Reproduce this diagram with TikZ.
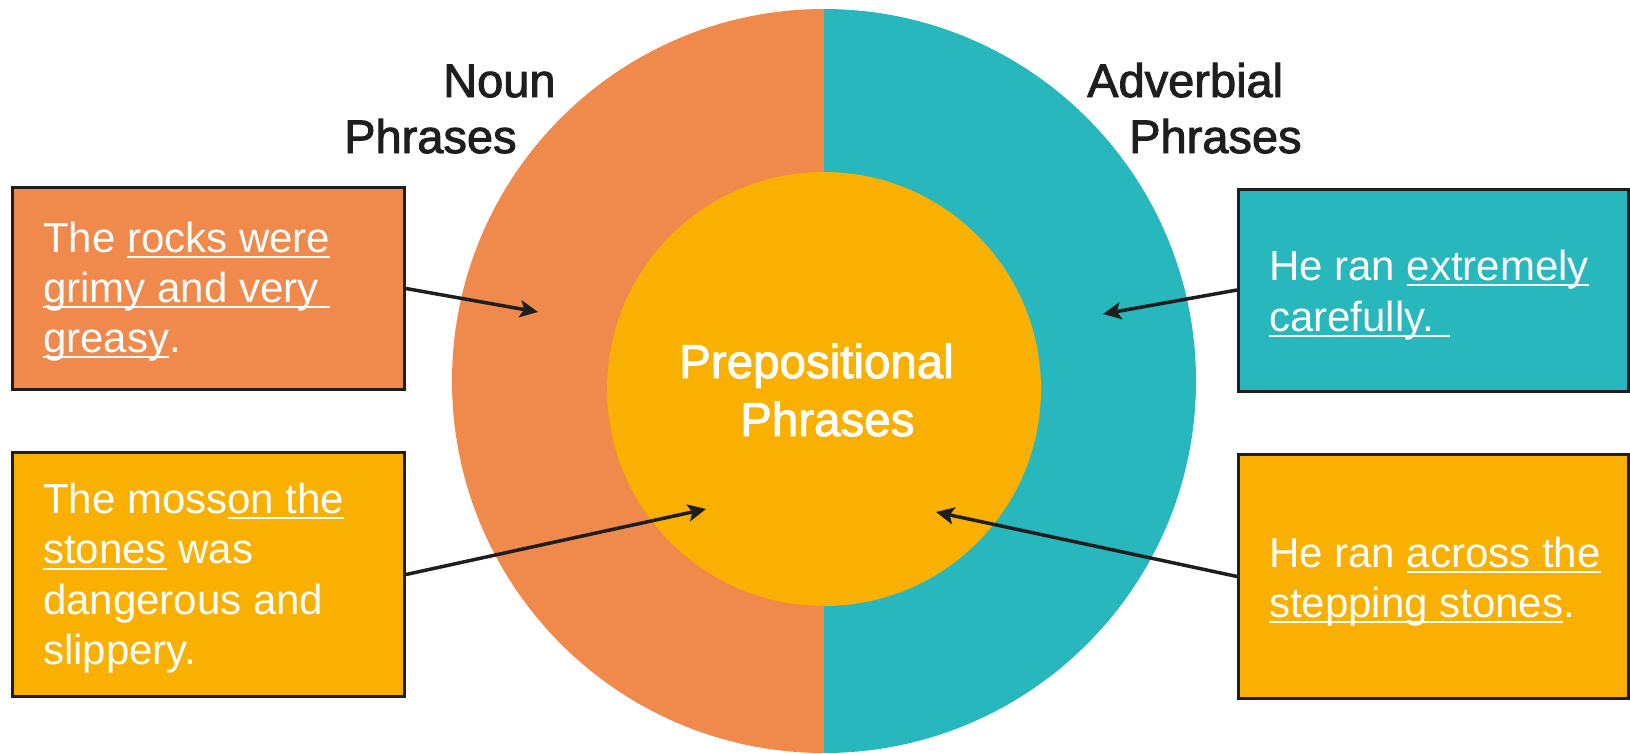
\documentclass[tikz,border=0pt]{standalone}
\usepackage{fontspec}
\setmainfont{Liberation Sans}
\newfontfamily\heavysans[FakeBold=2]{Liberation Sans}
\usetikzlibrary{arrows.meta}
\definecolor{orng}{HTML}{EF894C}
\definecolor{teal2}{HTML}{27B7BC}
\definecolor{amber}{HTML}{F9B000}
\definecolor{ink}{HTML}{1E1E1E}
\newcommand\myul[1]{\setbox0=\hbox{#1}\rlap{\rule[-6pt]{\wd0}{2pt}}\box0\relax}
\begin{document}
\begin{tikzpicture}[x=1pt,y=-1pt,
  boxst/.style={draw=ink,line width=3pt,rectangle,inner sep=0pt},
  linetxt/.style={anchor=base west,inner sep=0pt,text=white,font=\fontsize{42}{50}\selectfont},
  headtxt/.style={anchor=base west,inner sep=0pt,text=ink,font=\heavysans\fontsize{47}{56}\selectfont},
  preptxt/.style={anchor=base west,inner sep=0pt,text=white,font=\heavysans\fontsize{47.5}{56}\selectfont},
  arr/.style={draw=ink,line width=3.5pt,-{Stealth[length=18pt,width=17pt,inset=4pt]}}]
\useasboundingbox (0,0) rectangle (1630,753);
% outer disc, two halves
\begin{scope}
  \clip (0,0) rectangle (824,753);
  \fill[orng] (824,381) circle[radius=372pt];
\end{scope}
\begin{scope}
  \clip (824,0) rectangle (1630,753);
  \fill[teal2] (824,381) circle[radius=372pt];
\end{scope}
% inner circle
\fill[amber] (824,389) circle[radius=217pt];
% headings
\node[headtxt] (noun) at (443,97) {Noun};
\node[headtxt] (nounph) at (344,153) {Phrases};
\node[headtxt] (adv) at (1087,97) {Adverbial};
\node[headtxt] (advph) at (1129,153) {Phrases};
\node[preptxt] (prep1) at (679,378) {Prepositional};
\node[preptxt] (prep2) at (740,436) {Phrases};
% boxes
\node[boxst,fill=orng,minimum width=392pt,minimum height=202pt] (b1) at (208.5,288.5) {};
\node[boxst,fill=amber,minimum width=392pt,minimum height=244pt] (b2) at (208.5,574.5) {};
\node[boxst,fill=teal2,minimum width=390pt,minimum height=202pt] (b3) at (1433.5,290) {};
\node[boxst,fill=amber,minimum width=390pt,minimum height=244pt] (b4) at (1433.5,576.5) {};
% box texts
\node[linetxt] (b1a) at (43,252) {The \myul{rocks were}};
\node[linetxt] (b1b) at (43,302) {\myul{grimy and very }};
\node[linetxt] (b1c) at (43,352) {\myul{greasy}.};
\node[linetxt] (b2a) at (43,513) {The moss\myul{on the}};
\node[linetxt] (b2b) at (43,563.5) {\myul{stones} was};
\node[linetxt] (b2c) at (43,614) {dangerous and};
\node[linetxt] (b2d) at (43,664.5) {slippery.};
\node[linetxt] (b3a) at (1269,280) {He ran \myul{extremely}};
\node[linetxt] (b3b) at (1269,331) {\myul{carefully. }};
\node[linetxt] (b4a) at (1269,567) {He ran \myul{across the}};
\node[linetxt] (b4b) at (1269,617) {\myul{stepping stones}.};
% arrow tips
\coordinate (t1) at (538,312);
\coordinate (t2) at (706,509);
\coordinate (t3) at (1103,314);
\coordinate (t4) at (936,512);
\draw[arr] (b1.east) -- (t1);
\draw[arr] (b2.east) -- (t2);
\draw[arr] (b3.west) -- (t3);
\draw[arr] (b4.west) -- (t4);
\end{tikzpicture}
\end{document}
